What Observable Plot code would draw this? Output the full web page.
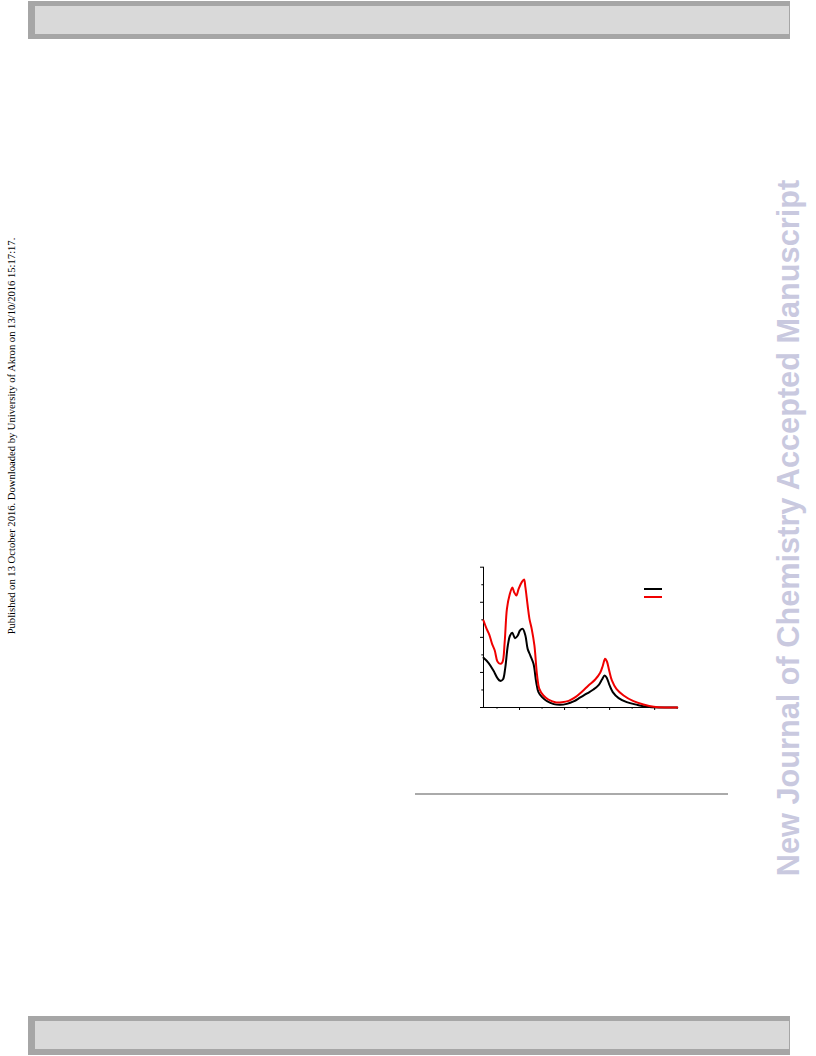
<!DOCTYPE html>
<html>
<head>
<meta charset="utf-8">
<script src="https://cdn.jsdelivr.net/npm/d3@7"></script>
<script src="https://cdn.jsdelivr.net/npm/@observablehq/plot@0.6"></script>
<style>
  html, body { margin: 0; padding: 0; background: #fff; }
  body { width: 816px; height: 1056px; position: relative; overflow: hidden; }
  .bar { position: absolute; background: #a6a6a6; }
  .bar .inner { position: absolute; background: #d9d9d9; }
  .rot { position: absolute; white-space: nowrap; text-align: center; transform: rotate(-90deg); transform-origin: 50% 50%; }
  #chart { position: absolute; left: 460px; top: 550px; }
  .leg { position: absolute; height: 2px; }
  .hr { position: absolute; left: 415px; top: 793px; width: 313px; height: 2px; background: #aaaaaa; }
</style>
</head>
<body>
<div class="bar" style="left:28px; top:1px; width:762px; height:38px;"><div class="inner" style="left:7px; top:5px; right:1px; height:28px;"></div></div>
<div class="bar" style="left:28px; top:1016px; width:762px; height:39px;"><div class="inner" style="left:7px; top:5px; right:1px; height:28px;"></div></div>

<div class="rot" style="left:-198px; top:430px; width:420px; height:12px; font-family:'Liberation Serif','Times New Roman',serif; font-size:10.6px; line-height:12px; color:#000;">Published on 13 October 2016. Downloaded by University of Akron on 13/10/2016 15:17:17.</div>
<div class="rot" style="left:414px; top:510px; width:750px; height:36px; font-family:'Liberation Sans',Arial,sans-serif; font-weight:bold; font-size:30.7px; line-height:36px; color:#c9c9df;">New Journal of Chemistry Accepted Manuscript</div>

<div id="chart"></div>
<div class="leg" style="left:644px; top:588px; width:18px; background:#000;"></div>
<div class="leg" style="left:644px; top:596px; width:18px; background:#f00000;"></div>
<div class="hr"></div>

<script>
// Black spectrum
const blackX = [220,231,242,251,257,263,268,274,279,284,290,296,301,307,313,318,324,331,337,342,350,361,376,390,405,420,435,450,464,476,483,489,494,500,507,520,538,561,583,613,650];
const blackY = [0.708,0.637,0.527,0.418,0.380,0.399,0.551,0.884,1.026,1.064,0.988,1.026,1.098,1.121,1.026,0.836,0.741,0.622,0.361,0.219,0.147,0.090,0.048,0.038,0.052,0.086,0.143,0.200,0.257,0.323,0.399,0.456,0.418,0.314,0.219,0.133,0.076,0.038,0.010,0.0,0.0];
// Red spectrum
const redX = [220,227,233,239,245,251,257,262,267,272,278,284,288,293,298,305,310,313,318,322,327,333,339,344,353,364,379,394,409,424,439,453,468,479,485,490,494,499,505,515,531,553,575,598,627,650];
const redY = [1.240,1.121,1.036,0.908,0.813,0.656,0.622,0.646,0.931,1.406,1.606,1.711,1.644,1.597,1.692,1.787,1.825,1.715,1.454,1.264,1.121,0.884,0.456,0.266,0.171,0.114,0.076,0.076,0.095,0.147,0.228,0.314,0.399,0.494,0.599,0.694,0.656,0.527,0.385,0.266,0.171,0.090,0.043,0.010,0.0,0.0];

const xMajor = [300,400,500,600];
const xMinor = [250,350,450,550,650];
const yMajor = [0,0.5,1,1.5,2];
const yMinor = [0.25,0.75,1.25,1.75];

const blackData = blackX.map((x,i) => ({x, y: blackY[i]}));
const redData = redX.map((x,i) => ({x, y: redY[i]}));

const chart = Plot.plot({
  width: 230,
  height: 170,
  marginLeft: 23,
  marginRight: 13.3,
  marginTop: 16.7,
  marginBottom: 13,
  x: {domain: [220, 650], label: null},
  y: {domain: [0, 2], label: null},
  style: {background: "transparent", overflow: "visible"},
  marks: [
    Plot.axisX({ticks: xMajor, tickSize: 3, tickFormat: () => "", label: null, stroke: "#000", strokeWidth: 1}),
    Plot.axisX({ticks: xMinor, tickSize: 1.7, tickFormat: () => "", label: null, stroke: "#000", strokeWidth: 1}),
    Plot.axisY({ticks: yMajor, tickSize: 3, tickFormat: () => "", label: null, stroke: "#000", strokeWidth: 1}),
    Plot.axisY({ticks: yMinor, tickSize: 1.7, tickFormat: () => "", label: null, stroke: "#000", strokeWidth: 1}),
    Plot.ruleX([220], {stroke: "#000", strokeWidth: 1}),
    Plot.ruleY([0], {stroke: "#000", strokeWidth: 1}),
    Plot.line(blackData, {x: "x", y: "y", stroke: "#000", strokeWidth: 2, curve: "catmull-rom"}),
    Plot.line(redData, {x: "x", y: "y", stroke: "#f00000", strokeWidth: 2, curve: "catmull-rom"})
  ]
});
document.getElementById("chart").appendChild(chart);
</script>
</body>
</html>
